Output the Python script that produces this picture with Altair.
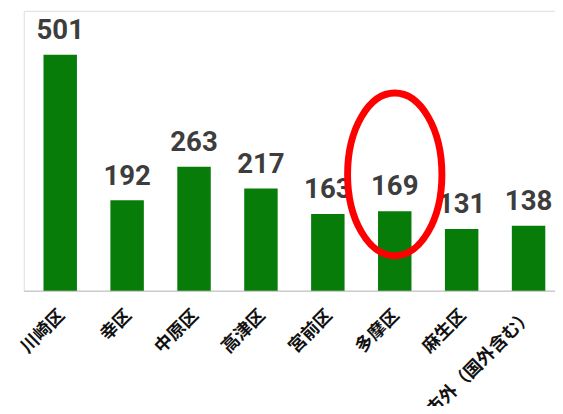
import altair as alt
import pandas as pd

districts = ["川崎区", "幸区", "中原区", "高津区", "宮前区", "多摩区", "麻生区", "市外（国外含む）"]
counts = [501, 192, 263, 217, 163, 169, 131, 138]
highlight = ["多摩区"]
highlight_level = [247]

df = pd.DataFrame({"district": districts, "count": counts})
hl = pd.DataFrame({"district": highlight, "level": highlight_level})

x = alt.X("district:N", sort=districts, title=None,
          scale=alt.Scale(paddingInner=0.5, paddingOuter=0.22, align=0.67),
          axis=alt.Axis(labelAngle=-45, labelAlign="right", labelBaseline="middle",
                        labelFont="Noto Sans CJK JP", labelFontWeight="bold",
                        labelFontSize=18, labelColor="#111111", labelPadding=22,
                        labelOffset=2, ticks=False, domainColor="#cccccc",
                        domainWidth=1.5, labelOverlap=False))
y = alt.Y("count:Q", title=None, axis=None,
          scale=alt.Scale(domain=[0, 594], nice=False, zero=True))

bars = alt.Chart(df).mark_bar(color="#087c08").encode(x=x, y=y)
labels = alt.Chart(df).mark_text(
    font="Roboto", fontSize=28, fontWeight="bold",
    color="#3d3d3d", baseline="alphabetic", dy=-16
).encode(x=x, y=y, text="count:Q")

ellipse = alt.Chart(hl).mark_point(
    shape="M -0.58 0 A 0.58 1 0 1 1 0.58 0 A 0.58 1 0 1 1 -0.58 0 Z",
    size=27225, filled=False, stroke="#ff0000", strokeWidth=7, opacity=1
).encode(
    x=x,
    y=alt.Y("level:Q", axis=None),
)

chart = alt.layer(bars, labels, ellipse).properties(
    width=539, height=284,
    autosize=alt.AutoSizeParams(type="none"),
    padding={"left": 16, "top": 0, "right": 0, "bottom": 114},
).configure_view(strokeWidth=0, stroke="transparent").configure(background="white")

chart.save("out.html", embed_options={"renderer": "svg", "actions": False})
